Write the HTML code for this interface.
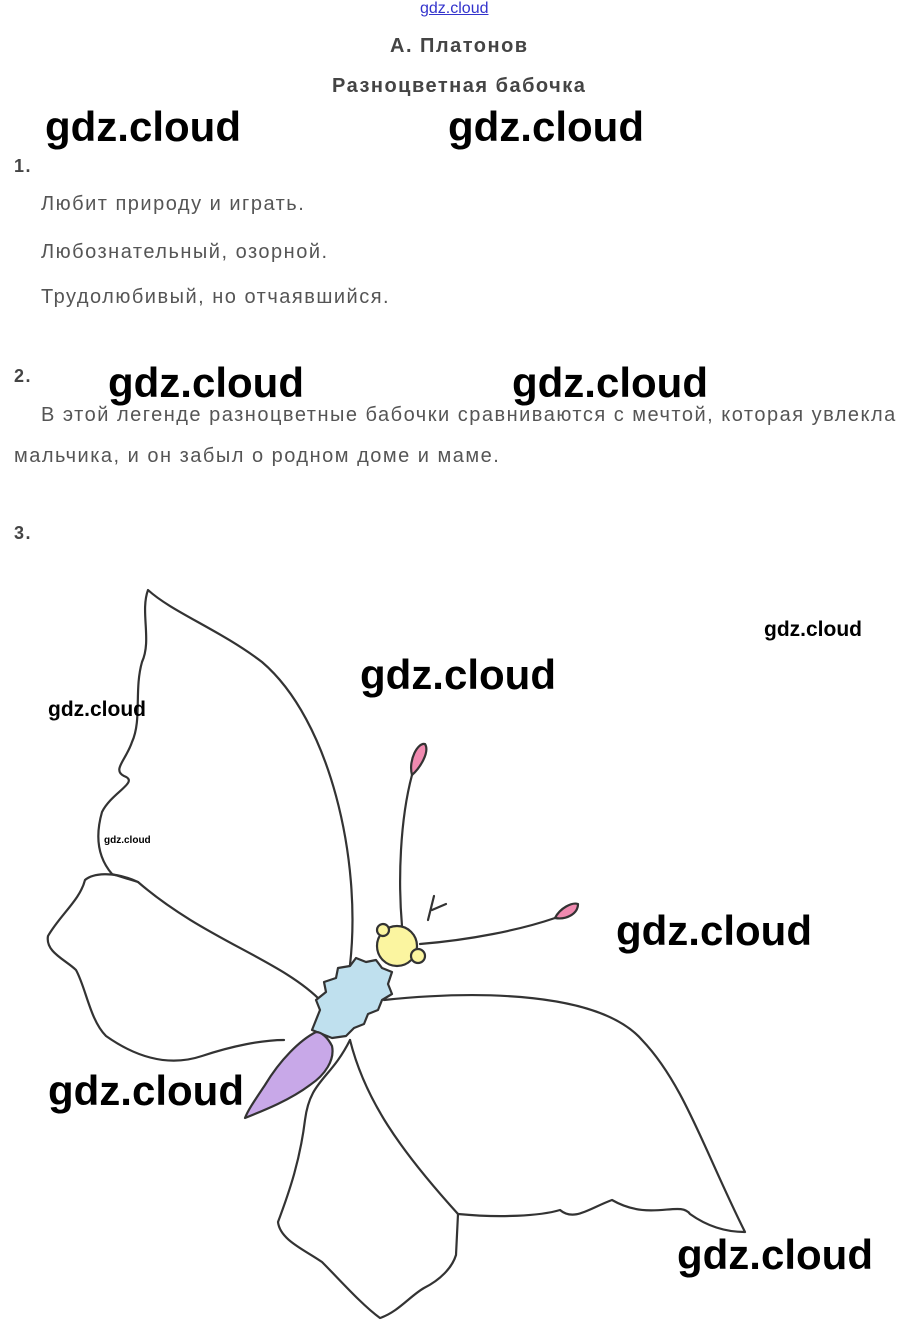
<!DOCTYPE html>
<html><head><meta charset="utf-8"><style>
html,body{margin:0;padding:0;background:#fff;}
body{width:914px;height:1333px;position:relative;overflow:hidden;font-family:"Liberation Sans",Arial,sans-serif;}
.t{position:absolute;color:#555;font-size:20px;white-space:nowrap;letter-spacing:1.5px;}
.b{font-weight:bold;color:#444;}
.w{position:absolute;font-family:"Liberation Sans",sans-serif;color:#000;white-space:nowrap;font-weight:bold;}
.big{font-size:42px;}
</style></head><body>
<div class="t" style="left:420px;top:0px;font-size:16px;color:#3333cc;text-decoration:underline;letter-spacing:0;">gdz.cloud</div>
<div class="t b" style="left:390px;top:35px;">А. Платонов</div>
<div class="t b" style="left:332px;top:75px;">Разноцветная бабочка</div>
<div class="t b" style="left:14px;top:156px;font-size:18px;">1.</div>
<div class="t" style="left:41px;top:193px;">Любит природу и играть.</div>
<div class="t" style="left:41px;top:241px;">Любознательный, озорной.</div>
<div class="t" style="left:41px;top:286px;">Трудолюбивый, но отчаявшийся.</div>
<div class="t b" style="left:14px;top:366px;font-size:18px;">2.</div>
<div class="t" style="left:41px;top:404px;">В этой легенде разноцветные бабочки сравниваются с мечтой, которая увлекла</div>
<div class="t" style="left:14px;top:445px;">мальчика, и он забыл о родном доме и маме.</div>
<div class="t b" style="left:14px;top:523px;font-size:18px;">3.</div>

<svg style="position:absolute;left:0;top:0" width="914" height="1333" fill="none" stroke="#333" stroke-width="2.2" stroke-linecap="round" stroke-linejoin="round">
<path d="M350,965 C362,860 330,720 262,662 C220,630 172,612 148,590 C140,612 152,640 142,662 C134,690 142,720 132,742 C126,760 112,770 124,776 C140,782 112,792 102,812 C94,840 100,860 112,874 L138,882 C205,940 282,960 322,1002"/>
<path d="M138,882 C112,870 92,874 85,880 C80,900 60,915 48,936 C45,952 66,960 76,970 C86,988 90,1020 106,1036 C140,1060 172,1066 202,1056 C232,1046 262,1040 284,1040"/>
<path d="M384,1000 C480,990 600,992 642,1040 C684,1084 704,1150 745,1232 C722,1232 704,1224 690,1214 C680,1200 650,1222 612,1200 C590,1208 574,1222 560,1210 C540,1216 500,1218 458,1214"/>
<path d="M350,1040 C330,1080 310,1080 305,1120 C300,1160 290,1190 278,1222 C280,1240 305,1250 322,1262 C340,1280 362,1305 380,1318 C398,1312 410,1296 424,1288 C440,1280 452,1268 456,1255 L458,1214"/>
<path d="M350,1040 C365,1100 400,1150 458,1214"/>
<path d="M312,1030 L320,1010 L316,1000 L326,992 L324,982 L336,978 L338,968 L350,966 L356,958 L366,962 L376,960 L382,968 L392,972 L388,984 L392,994 L382,1000 L378,1010 L368,1014 L364,1024 L354,1028 L346,1036 L332,1038 Z" fill="#bfe0ee"/>
<circle cx="397" cy="946" r="20" fill="#fbf5a0"/>
<circle cx="383" cy="930" r="6" fill="#fbf5a0"/>
<circle cx="418" cy="956" r="7" fill="#fbf5a0"/>
<path d="M316,1032 C300,1040 280,1060 265,1085 C255,1100 248,1110 245,1118 C265,1110 290,1100 310,1085 C325,1075 335,1060 332,1046 C328,1038 322,1032 316,1032 Z" fill="#c8a8e8"/>
<path d="M402,926 C398,880 400,820 412,775"/>
<path d="M412,775 C408,760 418,742 425,744 C430,752 420,768 412,775 Z" fill="#f08ab0"/>
<path d="M420,944 C470,940 520,930 555,918"/>
<path d="M555,918 C560,908 572,902 578,904 C578,914 566,920 555,918 Z" fill="#f08ab0"/>
<path d="M428,920 L434,896 M432,910 L446,904"/>
</svg>

<div class="w big" style="left:45px;top:103px;">gdz.cloud</div>
<div class="w big" style="left:448px;top:103px;">gdz.cloud</div>
<div class="w big" style="left:108px;top:359px;">gdz.cloud</div>
<div class="w big" style="left:512px;top:359px;">gdz.cloud</div>
<div class="w big" style="left:360px;top:651px;">gdz.cloud</div>
<div class="w big" style="left:616px;top:907px;">gdz.cloud</div>
<div class="w big" style="left:48px;top:1067px;">gdz.cloud</div>
<div class="w big" style="left:677px;top:1231px;">gdz.cloud</div>
<div class="w" style="left:764px;top:618px;font-size:21px;">gdz.cloud</div>
<div class="w" style="left:48px;top:698px;font-size:21px;">gdz.cloud</div>
<div class="w" style="left:104px;top:835px;font-size:10px;">gdz.cloud</div>
</body></html>
